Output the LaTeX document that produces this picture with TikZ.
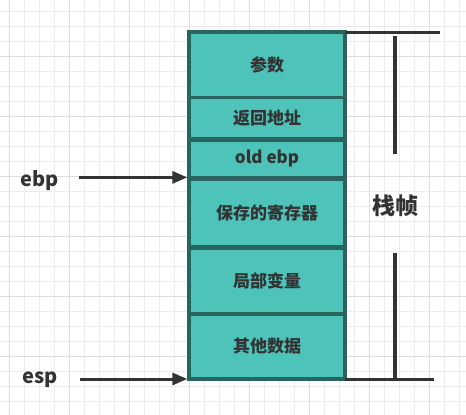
\documentclass[tikz,border=0pt]{standalone}
\usepackage{fontspec}
\setmainfont{Noto Sans CJK SC}
\usetikzlibrary{arrows.meta}
\definecolor{tealfill}{RGB}{77,195,185}
\definecolor{tealline}{RGB}{42,100,95}
\definecolor{ink}{RGB}{51,51,51}
\definecolor{gridminor}{RGB}{236,236,236}
\definecolor{gridmajor}{RGB}{222,222,222}
\begin{document}
\begin{tikzpicture}[x=1pt,y=-1pt,
  cell/.style={draw=tealline, fill=tealfill, line width=3.4pt, minimum width=156pt,
    anchor=north west, inner sep=0pt, outer sep=0pt,
    font=\fontsize{17}{19}\selectfont\bfseries, text=ink},
  ptr/.style={font=\fontsize{20}{22}\selectfont\bfseries, text=ink, inner sep=0pt},
  arr/.style={draw=ink, line width=3pt, -{Triangle[length=15pt,width=12pt]}},
  bar/.style={draw=ink, line width=3.4pt}]
\useasboundingbox (0,0) rectangle (466,415);
\fill[white] (0,0) rectangle (466,415);
\foreach \k in {0,...,30} \draw[gridminor, line width=1pt] (9.3+15*\k,0) -- (9.3+15*\k,415);
\foreach \k in {0,...,27} \draw[gridminor, line width=1pt] (0,11.7+15*\k) -- (466,11.7+15*\k);
\foreach \k in {0,...,7} \draw[gridmajor, line width=1pt] (9.3+60*\k,0) -- (9.3+60*\k,415);
\foreach \k in {0,...,6} \draw[gridmajor, line width=1pt] (0,-3.3+60*\k) -- (466,-3.3+60*\k);
% stack cells
\node[cell, minimum height=65.9pt] (args) at (189,31.8) {参数};
\node[cell, minimum height=40.6pt] (ret) at (189,97.7) {返回地址};
\node[cell, minimum height=37.4pt] (oldebp) at (189,140) {old ebp};
\node[cell, minimum height=67.7pt] (saved) at (189,179) {保存的寄存器};
\node[cell, minimum height=65.7pt] (locals) at (189,248.3) {局部变量};
\node[cell, minimum height=65pt] (other) at (189,314) {其他数据};
% pointers
\node[ptr] (ebp) at (40,180.5) {ebp};
\node[ptr] (esp) at (40,380) {esp};
\draw[arr, shorten <=20pt, shorten >=1.7pt] (oldebp.south west -| ebp.east) -- (oldebp.south west);
\draw[arr, shorten <=22pt, shorten >=1.7pt] (other.south west -| esp.east) -- (other.south west);
% frame bracket
\node[font=\fontsize{23}{26}\selectfont\bfseries, text=ink, inner sep=0pt] (frame) at (395,206) {栈帧};
\coordinate (tr) at (440,32.7);
\coordinate (br) at (434,379.3);
\coordinate (vt) at (395,36);
\coordinate (vb) at (395,379.3);
\draw[bar] (tr -| args.north east) -- (tr);
\draw[bar] (br -| other.south east) -- (br);
\draw[bar] (vt) -- (vt |- 0,154);
\draw[bar] (vb) -- (vb |- 0,253);
\end{tikzpicture}
\end{document}
